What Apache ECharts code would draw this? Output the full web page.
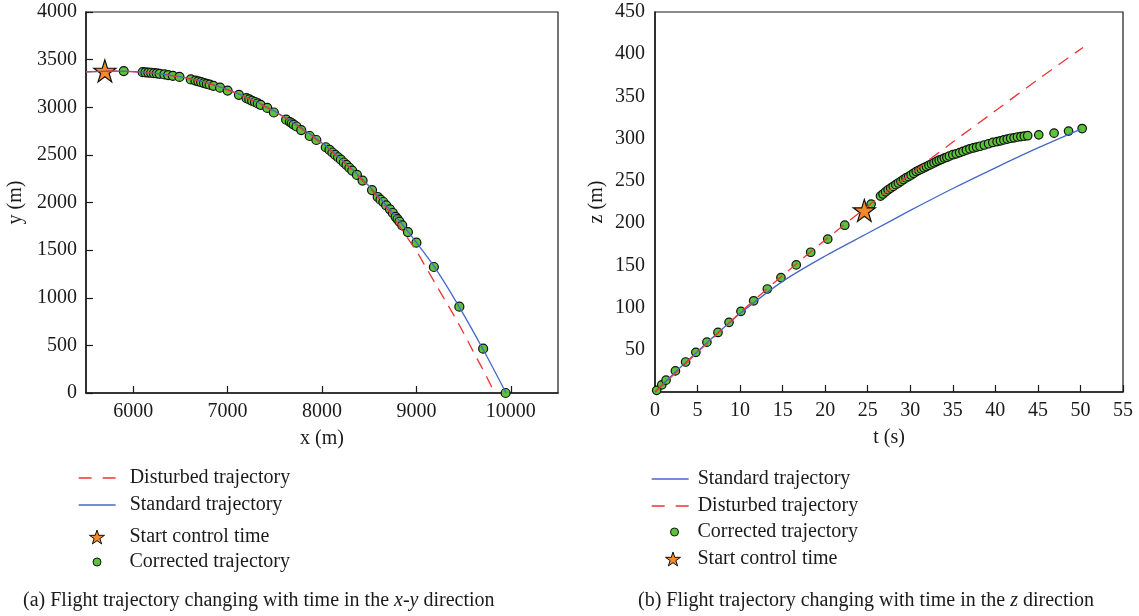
<!DOCTYPE html>
<html>
<head>
<meta charset="utf-8">
<script src="https://cdn.jsdelivr.net/npm/echarts@6/dist/echarts.min.js"></script>
</head>
<body style="margin:0;background:#fff">
<div id="container" style="width:1139px;height:616px"></div>
<script>
// (a) x-y plane, metres
var xyStandard = [[5500,3372],[5800,3380],[6100,3368],[6400,3335],[6700,3280],[7000,3185],[7300,3060],[7600,2900],[7900,2700],[8200,2460],[8500,2170],[8800,1830],[9000,1580],[9200,1310],[9450,910],[9700,470],[9950,0]];
var xyDisturbed = [[5500,3372],[5800,3380],[6100,3366],[6400,3332],[6700,3276],[7000,3180],[7300,3054],[7600,2893],[7900,2690],[8200,2448],[8500,2155],[8700,1920],[8900,1635],[9000,1490],[9100,1320],[9200,1150],[9300,980],[9400,810],[9500,630],[9600,440],[9700,255],[9830,0]];
var xyCorrected = [[5900,3380],[6100,3368],[6130,3366],[6160,3364],[6190,3362],[6220,3358],[6250,3355],[6280,3351],[6330,3345],[6370,3338],[6420,3330],[6490,3318],[6610,3292],[6660,3280],[6690,3272],[6720,3263],[6750,3254],[6780,3245],[6810,3237],[6850,3225],[6920,3206],[7000,3175],[7120,3130],[7200,3095],[7230,3082],[7260,3068],[7290,3055],[7320,3040],[7350,3025],[7420,2993],[7490,2945],[7620,2870],[7660,2845],[7680,2832],[7700,2818],[7730,2798],[7780,2760],[7870,2698],[7940,2656],[8040,2580],[8080,2552],[8110,2525],[8140,2500],[8170,2475],[8200,2450],[8230,2420],[8260,2394],[8290,2365],[8320,2335],[8370,2290],[8430,2230],[8530,2130],[8590,2058],[8620,2030],[8650,2005],[8680,1970],[8720,1928],[8750,1890],[8780,1850],[8800,1825],[8820,1800],[8850,1760],[8910,1690],[9000,1578],[9185,1323],[9455,906],[9707,465],[9945,0]];
var xyStart = [[5700,3382]];
var xTicks = [6000,7000,8000,9000,10000];

// (b) height against time
var tzStandard = [[0,0],[2.5,24.5],[5,48],[7.5,71],[10,93],[15,131],[20,161],[25,188],[30,215],[35,241],[40,265.5],[45,289],[50,311]];
var tzDisturbed = [[0,0],[5,47],[10,94],[15,138],[20,180],[25,220],[30,258],[35,296],[40,333],[45,370],[50.3,408]];
var tzCorrected = [[0.2,2],[0.8,8.5],[1.3,14],[2.4,25],[3.6,35.5],[4.8,47],[6.1,59],[7.4,70.5],[8.7,82.5],[10.1,95.5],[11.6,108],[13.2,122],[14.8,135.5],[16.6,150.5],[18.3,165.5],[20.3,181],[22.3,197.5],[25.4,222.5],[26.5,232],[26.8,234.5],[27.1,237],[27.4,239.5],[27.7,241.5],[28.0,243.5],[28.3,245.5],[28.6,247.5],[28.9,249.5],[29.2,251.5],[29.5,253.5],[29.8,255],[30.1,257],[30.4,259],[30.7,261],[31.0,262.5],[31.3,264],[31.6,265.5],[31.9,267],[32.2,268.5],[32.5,270],[32.8,271.5],[33.1,273],[33.4,274.5],[33.7,275.5],[34.0,277],[34.3,278],[34.6,279.5],[35.0,281],[35.4,282],[35.8,283.5],[36.2,285],[36.6,286.5],[37.0,288],[37.4,289],[37.8,290],[38.2,291],[38.7,292.5],[39.2,294],[39.7,295.5],[40.2,296.5],[40.6,297.5],[41.0,298.5],[41.4,299.5],[41.8,300.5],[42.2,301],[42.6,302],[43.0,302.5],[43.4,303],[43.8,303.5],[45.1,304.5],[46.9,306.5],[48.6,309],[50.2,312]];
var tzStart = [[24.6,215]];
var zLabels = [50,100,150,200,250,300,350,400,450];

var F = 'Liberation Serif';
var FS = 20;
var INK = '#1a1a1a';
var RED = '#ee3535', BLUE = '#4468c8', GREEN = '#5cc23a', ORANGE = '#f58a2a';
var STAR = 'path://M50,0 L61.8,35.3 L100,35.3 L69.1,57.1 L80.9,92.7 L50,70.9 L19.1,92.7 L30.9,57.1 L0,35.3 L38.2,35.3 Z';

function plain(v) { return String(v); }

function axisBase(extra) {
  var a = {
    type: 'value',
    nameLocation: 'middle',
    nameTextStyle: {fontFamily: F, fontSize: FS, color: INK},
    axisLine: {onZero: false, lineStyle: {color: INK, width: 1.5}},
    axisTick: {inside: true, length: 7, lineStyle: {color: INK, width: 1.2}},
    axisLabel: {fontFamily: F, fontSize: FS, color: INK, margin: 9, formatter: plain},
    splitLine: {show: false}
  };
  return echarts.util.merge(a, extra, true);
}

function leg(name, left, cy, w, h, pad, extra) {
  return Object.assign({
    data: [name], left: left, top: cy - 8, itemWidth: w, itemHeight: h,
    padding: 0, selectedMode: false,
    textStyle: {fontFamily: F, fontSize: FS, color: INK, padding: [0, 0, 0, pad]}
  }, extra || {});
}

// line entries: hide the marker dot, keep the stroke
var lineLeg = {itemStyle: {opacity: 0}, lineStyle: {width: 1.3}};
var dashLeg = {itemStyle: {opacity: 0}, lineStyle: {type: [13, 11], width: 1.3}};
var markLeg = {itemStyle: {borderWidth: 1}};

var chart = echarts.init(document.getElementById('container'));
var option = {
  animation: false,
  backgroundColor: '#fff',
  title: [
    {text: '(a) Flight trajectory changing with time in the {i|x-y} direction', left: 23, top: 591, padding: 0,
     textStyle: {fontFamily: F, fontSize: FS, fontWeight: 'normal', color: INK,
       rich: {i: {fontFamily: F, fontSize: FS, fontStyle: 'italic', color: INK}}}},
    {text: '(b) Flight trajectory changing with time in the {i|z} direction', left: 638, top: 591, padding: 0,
     textStyle: {fontFamily: F, fontSize: FS, fontWeight: 'normal', color: INK,
       rich: {i: {fontFamily: F, fontSize: FS, fontStyle: 'italic', color: INK}}}}
  ],
  grid: [
    {left: 86, top: 12, width: 472, height: 381, show: true, borderColor: INK, borderWidth: 1.2},
    {left: 655, top: 12, width: 468, height: 380, show: true, borderColor: INK, borderWidth: 1.2}
  ],
  xAxis: [
    axisBase({gridIndex: 0, min: 5500, max: 10500, name: 'x (m)', nameGap: 36,
      axisTick: {customValues: xTicks}, axisLabel: {customValues: xTicks}}),
    axisBase({gridIndex: 1, min: 0, max: 55, interval: 5, name: 't (s)', nameGap: 36})
  ],
  yAxis: [
    axisBase({gridIndex: 0, min: 0, max: 4000, interval: 500, name: 'y (m)', nameGap: 60}),
    axisBase({gridIndex: 1, min: 0, max: 450, interval: 50, name: 'z (m)', nameGap: 48,
      axisTick: {show: false}, axisLabel: {customValues: zLabels, margin: 10}})
  ],
  legend: [
    leg('Disturbed trajectory', 78, 476, 37, 10, 9, dashLeg),
    leg('Standard trajectory', 78, 503, 37, 10, 9, lineLeg),
    leg('Start control time', 89, 535, 15, 15, 20, markLeg),
    leg('Corrected trajectory', 92.5, 560, 8, 8, 23.5, markLeg),
    leg('Standard trajectory', 651, 477, 37, 10, 4, lineLeg),
    leg('Disturbed trajectory', 651, 504, 37, 10, 4, dashLeg),
    leg('Corrected trajectory', 670, 530, 8, 8, 14, markLeg),
    leg('Start control time', 665, 557, 15, 15, 12, markLeg)
  ],
  series: [
    {name: 'Standard trajectory', type: 'line', xAxisIndex: 0, yAxisIndex: 0, data: xyStandard,
     smooth: 0.3, symbol: 'none', lineStyle: {color: BLUE, width: 1.3}, itemStyle: {color: BLUE}},
    {name: 'Disturbed trajectory', type: 'line', xAxisIndex: 0, yAxisIndex: 0, data: xyDisturbed,
     smooth: 0.3, symbol: 'none', lineStyle: {color: RED, width: 1.3, type: [12, 8]}, itemStyle: {color: RED}},
    {name: 'Corrected trajectory', type: 'scatter', xAxisIndex: 0, yAxisIndex: 0, data: xyCorrected,
     symbolSize: 9, itemStyle: {color: GREEN, borderColor: '#111', borderWidth: 1.2, opacity: 1}},
    {name: 'Start control time', type: 'scatter', xAxisIndex: 0, yAxisIndex: 0, data: xyStart,
     symbol: STAR, symbolSize: 22, itemStyle: {color: ORANGE, borderColor: '#111', borderWidth: 1.2, opacity: 1}},

    {name: 'Standard trajectory', type: 'line', xAxisIndex: 1, yAxisIndex: 1, data: tzStandard,
     smooth: 0.3, symbol: 'none', lineStyle: {color: BLUE, width: 1.3}, itemStyle: {color: BLUE}},
    {name: 'Disturbed trajectory', type: 'line', xAxisIndex: 1, yAxisIndex: 1, data: tzDisturbed,
     smooth: 0.3, symbol: 'none', lineStyle: {color: RED, width: 1.3, type: [12, 8]}, itemStyle: {color: RED}},
    {name: 'Corrected trajectory', type: 'scatter', xAxisIndex: 1, yAxisIndex: 1, data: tzCorrected,
     symbolSize: 8.5, itemStyle: {color: GREEN, borderColor: '#111', borderWidth: 1.2, opacity: 1}},
    {name: 'Start control time', type: 'scatter', xAxisIndex: 1, yAxisIndex: 1, data: tzStart,
     symbol: STAR, symbolSize: 22, itemStyle: {color: ORANGE, borderColor: '#111', borderWidth: 1.2, opacity: 1}}
  ]
};
chart.setOption(option);
</script>
</body>
</html>
